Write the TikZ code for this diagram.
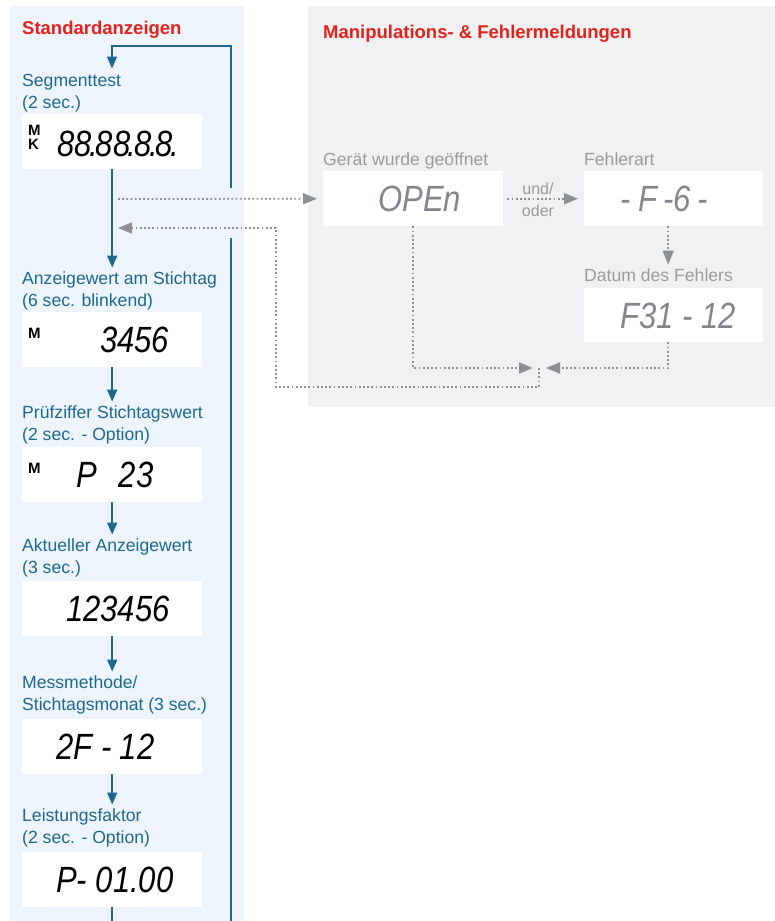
\documentclass[tikz,border=0pt]{standalone}
\usepackage{fontspec}
\setmainfont{Liberation Sans}
\newfontfamily\lcdfont[FakeStretch=0.85]{Liberation Sans}
\newcommand\lcddot{\kern-2.5pt.\kern-2pt}
\usetikzlibrary{arrows.meta,calc}
\definecolor{bluebg}{HTML}{EEF4FC}
\definecolor{greybg}{HTML}{F0F1F3}
\definecolor{myblue}{HTML}{1D6891}
\definecolor{myred}{HTML}{E3231B}
\definecolor{txtgrey}{HTML}{9B9B9B}
\definecolor{dotgrey}{HTML}{8E9194}
\definecolor{lcdgrey}{HTML}{83878B}
\begin{document}
\begin{tikzpicture}[x=1pt,y=-1pt,
  disp/.style={fill=white, minimum width=180pt, minimum height=55pt, inner sep=0pt, anchor=north west},
  blab/.style={font=\fontsize{17.6}{22}\selectfont, text=myblue, align=left, inner sep=0pt, anchor=base west},
  glab/.style={font=\fontsize{17.6}{22}\selectfont, text=txtgrey, align=left, inner sep=0pt, anchor=base west},
  ttl/.style={font=\fontsize{18.5}{22}\selectfont\bfseries, text=myred, inner sep=0pt, anchor=base west},
  lcd/.style={font=\lcdfont\itshape\fontsize{36.5}{40}\selectfont, inner sep=0pt, anchor=base west},
  mk/.style={font=\bfseries\fontsize{15}{15}\selectfont, inner sep=0pt, anchor=base west},
  bline/.style={draw=myblue, line width=1.5pt},
  bflow/.style={bline, -{Triangle[length=12pt,width=10pt]}},
  gdot/.style={draw=dotgrey, line width=1.8pt, dash pattern=on 1.8pt off 2.4pt},
  garr/.style={gdot, -{Triangle[length=14pt,width=11pt]}}]
\useasboundingbox (0,0) rectangle (775,921);
% panels
\fill[bluebg] (10,6) rectangle (244,921);
\fill[greybg] (308,6) rectangle (775,407);
% titles
\node[ttl] (t1) at (22,34) {Standardanzeigen};
\node[ttl] (t2) at (323,38) {Manipulations- \& Fehlermeldungen};
% left column
\node[blab] (l1) at (22,108) {Segmenttest\\(2 sec.)};
\node[disp] (b1) at (22,114) {};
\node[mk] (m1) at (28,135) {M};
\node[mk] (k1) at (28,149.5) {K};
\node[lcd] (d1) at (57,156) {88\lcddot88\lcddot8\lcddot8\lcddot};

\node[blab] (l2) at (22,306.5) {Anzeigewert am Stichtag\\(6 sec. blinkend)};
\node[disp] (b2) at (22,312) {};
\node[mk] (m2) at (28,338) {M};
\node[lcd] (d2) at (100,352.5) {3456};

\node[blab] (l3) at (22,440.5) {Prüfziffer Stichtagswert\\(2 sec. - Option)};
\node[disp] (b3) at (22,447) {};
\node[mk] (m3) at (28,473) {M};
\node[lcd] (d3) at (76,487.5) {P\hspace{22pt}23};

\node[blab] (l4) at (22,573.5) {Aktueller Anzeigewert\\(3 sec.)};
\node[disp] (b4) at (22,581) {};
\node[lcd] (d4) at (66,621.5) {123456};

\node[blab] (l5) at (22,710.5) {Messmethode/\\Stichtagsmonat (3 sec.)};
\node[disp] (b5) at (22,719) {};
\node[lcd] (d5) at (56,759) {2F - 12};

\node[blab] (l6) at (22,843.5) {Leistungsfaktor\\(2 sec. - Option)};
\node[disp] (b6) at (22,852) {};
\node[lcd] (d6) at (56,892.5) {P- 01.00};

% blue flow
\coordinate (rt) at (231,188);
\coordinate (rb2) at (231,238);
\coordinate (rb) at (231,921);
\coordinate (tl) at (112,46);
\draw[bline] (rb) -- (rb2);
\draw[bflow, shorten >=5pt] (rt) |- (tl) -- (tl |- l1.north);
\draw[bflow, shorten >=4pt] (b1.south) -- (b1.south |- l2.north);
\draw[bflow, shorten >=4pt] (b2.south) -- (b2.south |- l3.north);
\draw[bflow, shorten >=4pt] (b3.south) -- (b3.south |- l4.north);
\draw[bflow, shorten >=4pt] (b4.south) -- (b4.south |- l5.north);
\draw[bflow, shorten >=4pt] (b5.south) -- (b5.south |- l6.north);
\draw[bline] (b6.south) -- (b6.south |- rb);

% right panel
\node[glab] (l7) at (323,165.5) {Gerät wurde geöffnet};
\node[disp] (open) at (323,171) {};
\node[lcd, text=lcdgrey] (d7) at (378,211.5) {OPEn};

\node[glab] (l8) at (584,165.5) {Fehlerart};
\node[disp, minimum width=179pt] (fehler) at (584,171) {};
\node[lcd, text=lcdgrey] (d8) at (620,211.5) {-\hspace{8pt}F\hspace{6pt}-6\hspace{6pt}-};

\node[glab] (l9) at (584,281.5) {Datum des Fehlers};
\node[disp, minimum width=179pt, minimum height=54pt] (datum) at (584,288) {};
\node[lcd, text=lcdgrey] (d9) at (620,328) {F31 - 12};

\node[font=\fontsize{16}{22}\selectfont, text=txtgrey, align=center, inner sep=0pt] (uo) at (538,200) {und/\\oder};

% dotted connectors
\coordinate (ds) at (118,199);
\coordinate (m) at (539,368);
\coordinate (c1) at (276,387);
\coordinate (rtip) at (118,228);
\draw[garr, shorten >=6pt] (ds) -- (open.west);
\draw[garr, shorten >=6pt] ([xshift=4pt]open.east) -- (fehler.west);
\draw[garr, shorten >=4pt] ([xshift=-5.5pt]fehler.south) -- ([xshift=-5.5pt]fehler.south |- l9.north);
\draw[garr, shorten >=6pt] (open.south) |- (m);
\draw[garr, shorten >=7pt] ([xshift=-5.5pt]datum.south) |- (m);
\draw[garr] (m) |- (c1) |- (rtip);
\end{tikzpicture}
\end{document}
